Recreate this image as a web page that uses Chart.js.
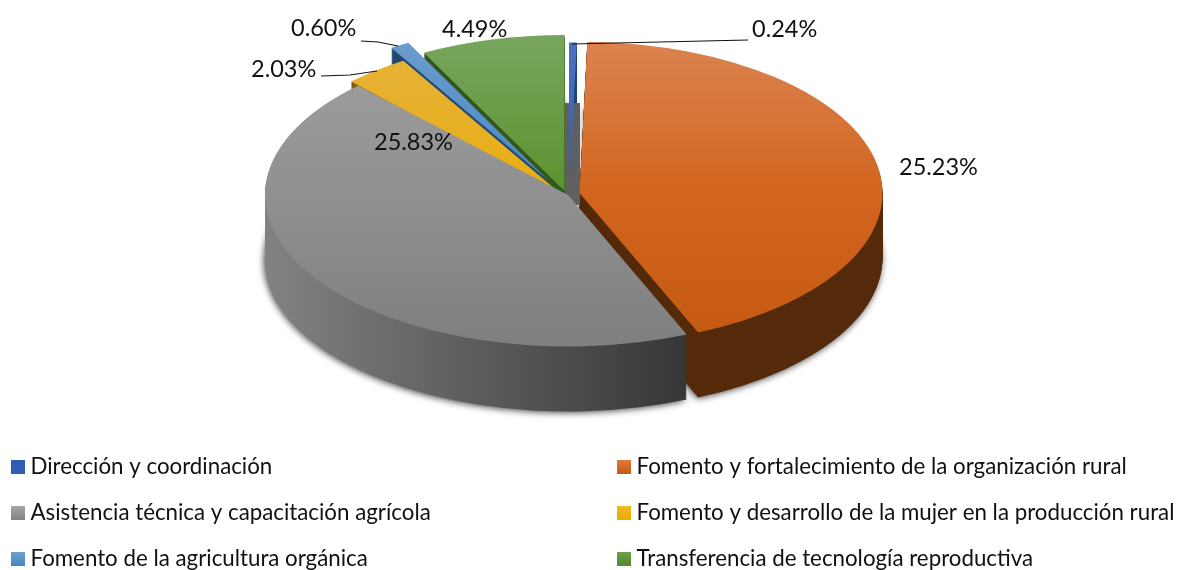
<!DOCTYPE html>
<html><head><meta charset="utf-8">
<style>html,body{margin:0;padding:0;background:#fff}#w{position:relative;width:1182px;height:570px}</style>
<script src="https://cdn.jsdelivr.net/npm/chart.js@4"></script></head>
<body><div id="w"><canvas id="c" width="1182" height="570"></canvas></div>
<script>
const categories = ["Dirección y coordinación","Fomento y fortalecimiento de la organización rural","Asistencia técnica y capacitación agrícola","Fomento y desarrollo de la mujer en la producción rural","Fomento de la agricultura orgánica","Transferencia de tecnología reproductiva"];
const values = [0.24,25.23,25.83,2.03,0.60,4.49];
const valueLabels = ["0.24%","25.23%","25.83%","2.03%","0.60%","4.49%"];

// appearance
const topColors = [["#4B72BC","#2F5DB3","#2F5DB3"],["#DB8350","#D2651F","#C55A11"],["#A0A0A0","#909090","#7F7F7F"],["#E6B23E","#E8AE10","#E8AC00"],["#6F9FD0","#4A87C2","#4585C0"],["#76A65E","#5B932F","#54872A"]];
const wallColors = [["#203F7A","#203F7A"],["#4E2608","#552A0B"],["#828282","#363636"],["#7F5F00","#7F5F00"],["#234A6E","#234A6E"],["#2F5019","#375C1E"]];
const swatchColors = [["#2F5DB3","#2F5DB3"],["#DE7A3C","#C55A11"],["#A6A6A6","#828282"],["#F0B828","#E8AC00"],["#6F9FD0","#4585C0"],["#6FA04C","#54872A"]];
// 3-D layout
const pieCenter = {x:566,y:191}, pieRadius = 303, pieDepth = 65, rimY = 103;
const sliceShiftX = [3,13.5,2,-5,-17,-1.5];
const sliceShiftY = [3,2,4,3,-10,0];
const sliceSquash = [0.5,0.5,0.5,0.515,0.515,0.515];
const wallOrder = [5,4,0,3,1,2];
const topOrder = [5,4,0,1,3,2];
// text layout
const fontName = 'Lato, "Open Sans", sans-serif';
const labelSize = 23.5, legendSize = 22.3;
const labelX = [752,899,374,251,291,442];
const labelBase = [37,175,150,77,36,37];
const leaderX = [[748,572],null,null,[321,350,377],[361,378,398],null];
const leaderY = [[40,44],null,null,[76,75,71],[41,42,46],null];
const legendX = [11,617,11,617,11,617];
const legendY = [460,460,506,506,552,552];

const pie3d = {
  id:'pie3d',
  beforeDatasetsDraw(chart){
    const ctx = chart.ctx, arcs = chart.getDatasetMeta(0).data;
    const place = (i,arc,dy)=>{
      ctx.translate(pieCenter.x+sliceShiftX[i], pieCenter.y+sliceShiftY[i]+dy);
      ctx.scale(1,sliceSquash[i]);
      ctx.translate(-arc.x,-arc.y);
    };
    const draw = (arc,fill)=>{
      const o = arc.options;
      arc.options = Object.assign({},o,{backgroundColor:fill,borderWidth:0});
      arc.draw(ctx);
      arc.options = o;
    };
    // walls
    wallOrder.forEach(i=>{
      const arc = arcs[i];
      const g = ctx.createLinearGradient(arc.x-pieRadius,0,arc.x+pieRadius*0.4,0);
      g.addColorStop(0,wallColors[i][0]); g.addColorStop(1,wallColors[i][1]);
      for(let d=pieDepth;d>=1;d--){
        ctx.save();
        if(d===pieDepth){ctx.shadowColor='rgba(0,0,0,0.75)';ctx.shadowBlur=7;ctx.shadowOffsetX=-1;ctx.shadowOffsetY=1;}
        place(i,arc,d);
        draw(arc,g);
        ctx.restore();
      }
    });
    // inner gap seen between the exploded slices
    ctx.fillStyle = '#606060';
    ctx.fillRect(pieCenter.x-1, rimY, 15, pieCenter.y+14-rimY);
    // tops
    topOrder.forEach(i=>{
      const arc = arcs[i];
      const g = ctx.createLinearGradient(0,arc.y-pieRadius,0,arc.y+pieRadius);
      g.addColorStop(0,topColors[i][0]); g.addColorStop(.5,topColors[i][1]); g.addColorStop(1,topColors[i][2]);
      ctx.save();
      place(i,arc,0);
      draw(arc,g);
      ctx.restore();
    });
    return false;
  },
  afterDraw(chart){
    const ctx = chart.ctx;
    ctx.save();
    ctx.textAlign='left'; ctx.textBaseline='alphabetic';
    // leader lines
    ctx.strokeStyle='#111'; ctx.lineWidth=1.1;
    leaderX.forEach((xs,i)=>{
      if(!xs) return;
      ctx.beginPath();
      xs.forEach((x,j)=> j?ctx.lineTo(x,leaderY[i][j]):ctx.moveTo(x,leaderY[i][j]));
      ctx.stroke();
    });
    // value labels
    ctx.fillStyle='#111';
    ctx.font=labelSize+'px '+fontName;
    valueLabels.forEach((t,i)=>ctx.fillText(t,labelX[i],labelBase[i]));
    // legend
    ctx.font=legendSize+'px '+fontName;
    categories.forEach((t,i)=>{
      const g=ctx.createLinearGradient(0,legendY[i],0,legendY[i]+14);
      g.addColorStop(0,swatchColors[i][0]); g.addColorStop(1,swatchColors[i][1]);
      ctx.fillStyle=g; ctx.fillRect(legendX[i],legendY[i],14,14);
      ctx.fillStyle='#111'; ctx.fillText(t,legendX[i]+19.5,legendY[i]+14);
    });
    ctx.restore();
  }
};
new Chart(document.getElementById('c'),{
  type:'pie',
  data:{labels:categories,datasets:[{data:values,borderWidth:0,backgroundColor:swatchColors.map(c=>c[1])}]},
  options:{responsive:false,animation:false,radius:pieRadius,layout:{padding:0},
    plugins:{legend:{display:false},tooltip:{enabled:false}}},
  plugins:[pie3d]
});
</script></body></html>
